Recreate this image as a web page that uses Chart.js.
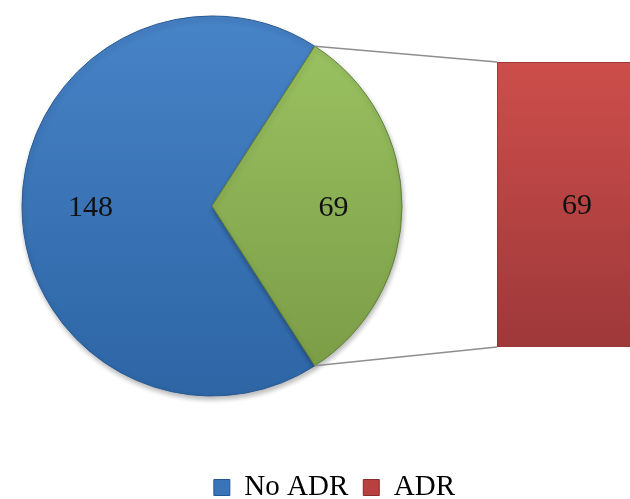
<!DOCTYPE html>
<html>
<head>
<meta charset="utf-8">
<title>ADR</title>
<script src="https://cdn.jsdelivr.net/npm/chart.js@4.4.1/dist/chart.umd.min.js"></script>
<style>
  html, body { margin: 0; padding: 0; background: #fff; overflow: hidden; width: 630px; height: 499px; }
  #wrap { position: absolute; left: -60px; top: -50px; width: 720px; height: 562px; }
  #wrap div { position: absolute; left: 0; top: 0; width: 720px; height: 562px; }
</style>
</head>
<body>
<div id="wrap">
  <div><canvas id="pieChart"></canvas></div>
  <div><canvas id="barChart"></canvas></div>
</div>
<script>
// data
var pieLabels = ['No ADR', 'ADR'];
var pieValues = [148, 69];
var barLabels = ['ADR'];
var barValues = [69];

var PIE_R = 190;
var pieTop = ['#4783C7', '#9CC463'];
var pieBottom = ['#2D65A5', '#789A44'];
var pieEdge = ['#2a5a93', '#62803a'];

Chart.defaults.font.family = "'Liberation Serif', serif";
Chart.defaults.color = '#000';

function grad(chart, y0, y1, c0, c1) {
	var g = chart.ctx.createLinearGradient(0, y0, 0, y1);
	g.addColorStop(0, c0);
	g.addColorStop(1, c1);
	return g;
}

// soft drop shadow under each dataset
var shadowPlugin = {
	id: 'shadow',
	beforeDatasetDraw: function (chart) {
		var c = chart.ctx;
		c.save();
		c.shadowColor = 'rgba(0,0,0,0.28)';
		c.shadowBlur = 5;
		c.shadowOffsetX = 1;
		c.shadowOffsetY = 3;
	},
	afterDatasetDraw: function (chart) {
		chart.ctx.restore();
	}
};

// numbers written inside slices / bar
var valuePlugin = {
	id: 'values',
	afterDatasetsDraw: function (chart) {
		var c = chart.ctx;
		c.save();
		c.font = "30px 'Liberation Serif', serif";
		c.fillStyle = '#111';
		c.textAlign = 'center';
		c.textBaseline = 'middle';
		chart.data.datasets.forEach(function (ds, di) {
			chart.getDatasetMeta(di).data.forEach(function (el, i) {
				var x, y;
				if (el.outerRadius !== undefined) {
					var p = el.getProps(['x', 'y', 'startAngle', 'endAngle', 'outerRadius'], true);
					var mid = (p.startAngle + p.endAngle) / 2;
					x = p.x + Math.cos(mid) * p.outerRadius * 0.64;
					y = p.y + Math.sin(mid) * p.outerRadius * 0.64;
				} else {
					var b = el.getProps(['x', 'y', 'base'], true);
					x = b.x;
					y = (b.y + b.base) / 2;
				}
				c.fillText(ds.data[i], x, y + 2);
			});
		});
		c.restore();
	}
};

var total = pieValues.reduce(function (a, b) { return a + b; }, 0);

var pie = new Chart(document.getElementById('pieChart'), {
	type: 'pie',
	data: {
		labels: pieLabels,
		datasets: [{
			data: pieValues,
			backgroundColor: function (ctx) {
				var a = ctx.chart.chartArea;
				if (!a) return pieTop[ctx.dataIndex];
				var cy = (a.top + a.bottom) / 2;
				return grad(ctx.chart, cy - PIE_R, cy + PIE_R, pieTop[ctx.dataIndex], pieBottom[ctx.dataIndex]);
			},
			borderColor: pieEdge,
			borderWidth: 1
		}]
	},
	options: {
		responsive: true,
		maintainAspectRatio: false,
		animation: false,
		events: [],
		rotation: 90 + 180 * pieValues[1] / total,
		radius: PIE_R,
		layout: { padding: { left: 14, right: 190, top: 4, bottom: 0 } },
		plugins: {
			tooltip: { enabled: false },
			legend: {
				position: 'bottom',
				align: 'end',
				labels: {
					font: { size: 29 },
					color: '#000',
					boxWidth: 16,
					boxHeight: 16,
					padding: 15,
					generateLabels: function () {
						return [
							{ text: pieLabels[0], fillStyle: '#3A74B8', strokeStyle: '#24558f', lineWidth: 1 },
							{ text: barLabels[0], fillStyle: '#B8413F', strokeStyle: '#862d2c', lineWidth: 1 }
						];
					}
				}
			}
		}
	},
	plugins: [shadowPlugin, valuePlugin]
});

// grey lines from the green slice to the bar
var connectorPlugin = {
	id: 'connectors',
	beforeDatasetsDraw: function (chart) {
		var arc = pie.getDatasetMeta(0).data[1];
		var bar = chart.getDatasetMeta(0).data[0];
		if (!arc || !bar) return;
		var a = arc.getProps(['x', 'y', 'startAngle', 'endAngle', 'outerRadius'], true);
		var b = bar.getProps(['x', 'y', 'base', 'width'], true);
		var left = b.x - b.width / 2;
		var c = chart.ctx;
		c.save();
		c.strokeStyle = '#8e8e8e';
		c.lineWidth = 1.5;
		c.beginPath();
		c.moveTo(a.x + Math.cos(a.startAngle) * a.outerRadius, a.y + Math.sin(a.startAngle) * a.outerRadius);
		c.lineTo(left, b.y);
		c.moveTo(a.x + Math.cos(a.endAngle) * a.outerRadius, a.y + Math.sin(a.endAngle) * a.outerRadius);
		c.lineTo(left, b.base);
		c.stroke();
		c.restore();
	}
};

new Chart(document.getElementById('barChart'), {
	type: 'bar',
	data: {
		labels: barLabels,
		datasets: [{
			label: barLabels[0],
			data: barValues,
			backgroundColor: function (ctx) {
				var a = ctx.chart.chartArea;
				if (!a) return '#C0504D';
				return grad(ctx.chart, a.top, a.bottom, '#CD4E4B', '#9E3839');
			},
			borderColor: '#8f3231',
			borderWidth: 1,
			barPercentage: 1,
			categoryPercentage: 1
		}]
	},
	options: {
		responsive: true,
		maintainAspectRatio: false,
		animation: false,
		events: [],
		layout: { padding: { left: 557, right: 3, top: 112, bottom: 165 } },
		scales: {
			x: { display: false },
			y: { display: false, min: 0, max: barValues.reduce(function (a, b) { return a + b; }, 0) }
		},
		plugins: {
			legend: { display: false },
			tooltip: { enabled: false }
		}
	},
	plugins: [connectorPlugin, shadowPlugin, valuePlugin]
});
</script>
</body>
</html>
